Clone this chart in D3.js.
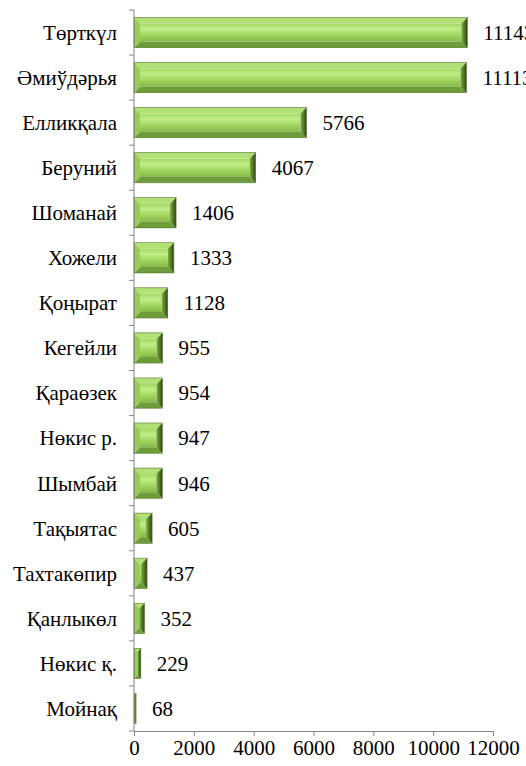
<!DOCTYPE html>
<html>
<head>
    <meta charset="utf-8">
    <script src="https://d3js.org/d3.v7.min.js"></script>
    <style>
        body { margin: 0; background: #fff; overflow: hidden; }
    </style>
</head>
<body>
    <script>
        const categories = ["Төрткүл", "Әмиўдәрья", "Елликқала", "Беруний", "Шоманай", "Хожели", "Қоңырат",
            "Кегейли", "Қараөзек", "Нөкис р.", "Шымбай", "Тақыятас", "Тахтакөпир", "Қанлыкөл", "Нөкис қ.", "Мойнақ"];
        const values = [11143, 11113, 5766, 4067, 1406, 1333, 1128, 955, 954, 947, 946, 605, 437, 352, 229, 68];
        const xTicks = [0, 2000, 4000, 6000, 8000, 10000, 12000];

        const width = 526, height = 766;
        const font = "Liberation Serif";
        const fsize = "21px";
        const axisColor = "#868686";

        const svg = d3.select("body").append("svg")
            .attr("width", width)
            .attr("height", height);

        const x = d3.scaleLinear().domain([0, 12000]).range([134, 493]);
        const y = d3.scaleBand().domain(categories).range([10, 731]).paddingInner(0.33).paddingOuter(0.165);

        const defs = svg.append("defs");
        const grad = defs.append("linearGradient").attr("id", "face")
            .attr("x1", 0).attr("y1", 0).attr("x2", 0).attr("y2", 1);
        grad.append("stop").attr("offset", "0%").attr("stop-color", "#a2d75e");
        grad.append("stop").attr("offset", "30%").attr("stop-color", "#c2ec8a");
        grad.append("stop").attr("offset", "60%").attr("stop-color", "#a4d862");
        grad.append("stop").attr("offset", "100%").attr("stop-color", "#86b84a");
        const rgrad = defs.append("linearGradient").attr("id", "right")
            .attr("x1", 0).attr("y1", 0).attr("x2", 1).attr("y2", 0);
        rgrad.append("stop").attr("offset", "0%").attr("stop-color", "#7cae40");
        rgrad.append("stop").attr("offset", "100%").attr("stop-color", "#2e4614");

        // bevelled bars
        const bars = svg.append("g").selectAll("g")
            .data(categories.map((c, i) => ({ c, v: values[i] })))
            .enter().append("g")
            .attr("transform", d => `translate(${x(0)},${y(d.c)})`);

        bars.each(function (d) {
            const g = d3.select(this);
            const w = x(d.v) - x(0), h = y.bandwidth();
            const b = Math.min(6, w / 2, h / 2);
            const pts = p => p.map(q => q.join(",")).join(" ");
            g.append("rect").attr("x", b).attr("y", b).attr("width", Math.max(0, w - 2 * b)).attr("height", h - 2 * b)
                .attr("fill", "url(#face)");
            g.append("polygon").attr("points", pts([[0, 0], [w, 0], [w - b, b], [b, b]])).attr("fill", "#b3e076");
            g.append("polygon").attr("points", pts([[0, h], [w, h], [w - b, h - b], [b, h - b]])).attr("fill", "#6f9c3a");
            g.append("polygon").attr("points", pts([[0, 0], [b, b], [b, h - b], [0, h]])).attr("fill", "#98cc58");
            g.append("polygon").attr("points", pts([[w, 0], [w - b, b], [w - b, h - b], [w, h]])).attr("fill", "url(#right)");
            g.append("rect").attr("width", w).attr("height", h)
                .attr("fill", "none").attr("stroke", "#557a2c").attr("stroke-width", 0.6);
        });

        // value labels
        svg.append("g").selectAll("text")
            .data(values)
            .enter().append("text")
            .attr("x", d => x(d) + 16)
            .attr("y", (d, i) => y(categories[i]) + y.bandwidth() / 2)
            .attr("dy", "0.35em")
            .style("font-family", font).style("font-size", fsize).style("fill", "#000")
            .text(d => d);

        // y axis with ticks between categories
        const yAxis = svg.append("g").attr("stroke", axisColor);
        yAxis.append("line").attr("x1", x(0)).attr("x2", x(0)).attr("y1", 10).attr("y2", 731);
        yAxis.selectAll(".tk").data(d3.range(categories.length + 1))
            .enter().append("line")
            .attr("x1", x(0) - 5).attr("x2", x(0))
            .attr("y1", i => 10 + i * 721 / categories.length)
            .attr("y2", i => 10 + i * 721 / categories.length);
        svg.append("g").selectAll("text")
            .data(categories)
            .enter().append("text")
            .attr("x", 117)
            .attr("y", d => y(d) + y.bandwidth() / 2)
            .attr("dy", "0.35em")
            .attr("text-anchor", "end")
            .style("font-family", font).style("font-size", fsize).style("fill", "#000")
            .text(d => d);

        // x axis
        const xAxis = svg.append("g")
            .attr("transform", "translate(0,731)")
            .call(d3.axisBottom(x).tickValues(xTicks).tickSize(5).tickSizeOuter(0).tickFormat(d => d));
        xAxis.select(".domain").attr("stroke", axisColor);
        xAxis.selectAll(".tick line").attr("stroke", axisColor);
        xAxis.selectAll(".tick text").attr("y", 9).attr("dy", "0.71em")
            .style("font-family", font).style("font-size", fsize).style("fill", "#000");
    </script>
</body>
</html>
